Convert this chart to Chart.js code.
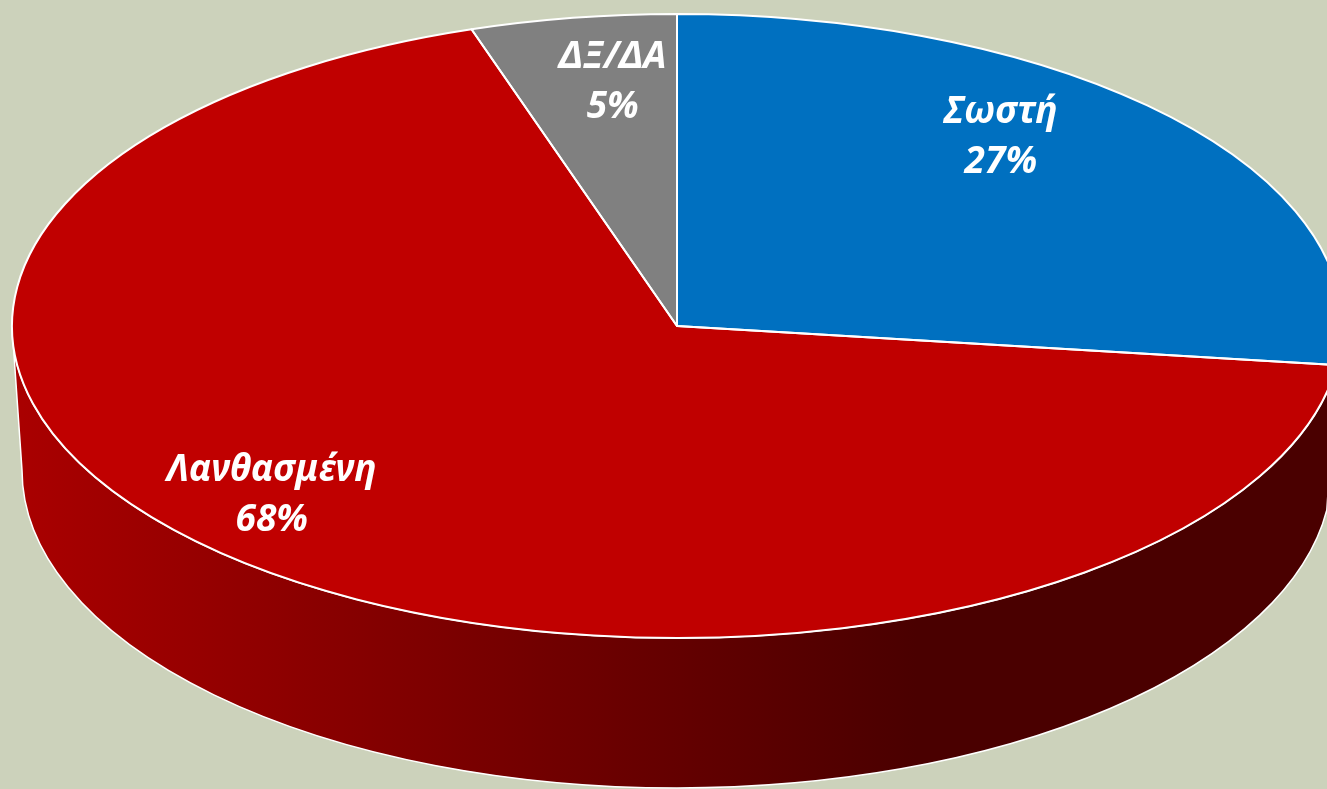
<!DOCTYPE html>
<html><head><meta charset="utf-8">
<script src="https://cdn.jsdelivr.net/npm/chart.js@4.4.1/dist/chart.umd.min.js"></script>
<style>html,body{margin:0;padding:0;background:#CCD2BB;overflow:hidden}canvas{display:block}</style>
</head><body>
<canvas id="c" width="1327" height="789"></canvas>
<script>
const categories = ['Σωστή', 'Λανθασμένη', 'ΔΞ/ΔΑ'];
const percentages = [27, 68, 5];
const topColors = ['#0070C0', '#C00000', '#808080'];
const wallLight = ['#005A9E', '#AA0000', '#6A6A6A'];
const wallDark = ['#002E55', '#4A0000', '#383838'];

// projection of the pie: top face ellipse, bottom face ellipse, label placement
const view = {
  top: {cx: 677, cy: 326, rx: 665, ry: 312},
  bottom: {cx: 677, cy: 470, rx: 655, ry: 318},
  apex: -58,
  labelBase: 0.56, labelGrow: 0.0014,
  font: 'italic bold 37px "Noto Sans"', lineGap: 50
};

const TAU = Math.PI * 2;

function drawWall(ctx, lo, hi, i) {
  const T = view.top, B = view.bottom;
  const g = ctx.createLinearGradient(T.cx - T.rx, 0, T.cx + T.rx, 0);
  g.addColorStop(0, wallLight[i]);
  g.addColorStop(0.68, wallDark[i]);
  g.addColorStop(1, wallDark[i]);
  ctx.beginPath();
  ctx.ellipse(T.cx, T.cy, T.rx, T.ry, 0, lo, hi, false);
  ctx.ellipse(B.cx, B.cy, B.rx, B.ry, 0, hi, lo, true);
  ctx.closePath();
  ctx.fillStyle = g;
  ctx.fill();
  ctx.strokeStyle = '#FFFFFF';
  ctx.lineWidth = 1.5;
  ctx.stroke();
}

const pie3d = {
  id: 'pie3d',
  beforeDatasetsDraw(chart) {
    const ctx = chart.ctx, meta = chart.getDatasetMeta(0);
    const T = view.top;
    ctx.save();
    meta.data.forEach((arc, i) => {
      const s = arc.startAngle, e = arc.endAngle;
      for (const k of [-1, 0, 1]) {
        const lo = Math.max(s, k * TAU), hi = Math.min(e, k * TAU + Math.PI);
        if (hi > lo) drawWall(ctx, lo, hi, i);
      }
    });
    ctx.restore();
    const a = meta.data[0];
    ctx.save();
    ctx.translate(T.cx, T.cy);
    ctx.scale(T.rx / a.outerRadius, T.ry / a.outerRadius);
    ctx.translate(-a.x, -a.y);
  },
  afterDatasetsDraw(chart) {
    const ctx = chart.ctx, meta = chart.getDatasetMeta(0);
    ctx.restore();
    const T = view.top;
    ctx.save();
    ctx.strokeStyle = '#FFFFFF';
    ctx.lineWidth = 2;
    ctx.lineJoin = 'round';
    meta.data.forEach(arc => {
      ctx.beginPath();
      ctx.moveTo(T.cx, T.cy);
      ctx.ellipse(T.cx, T.cy, T.rx, T.ry, 0, arc.startAngle, arc.endAngle, false);
      ctx.closePath();
      ctx.stroke();
    });
    ctx.restore();
  },
  afterDraw(chart) {
    const ctx = chart.ctx, meta = chart.getDatasetMeta(0);
    const T = view.top;
    const {apex, labelBase, labelGrow, font, lineGap} = view;
    const c = apex / T.ry;
    const k = T.rx * Math.sqrt(1 - c * c);
    ctx.save();
    ctx.font = font;
    ctx.fillStyle = '#FFFFFF';
    ctx.textAlign = 'center';
    ctx.textBaseline = 'alphabetic';
    meta.data.forEach((arc, i) => {
      const line1 = chart.data.labels[i];
      const line2 = chart.data.datasets[0].data[i] + '%';
      const w = Math.max(ctx.measureText(line1).width, ctx.measureText(line2).width);
      const r = labelBase + labelGrow * w;
      const m = (arc.startAngle + arc.endAngle) / 2;
      const u = Math.cos(m) * r, v = Math.sin(m) * r;
      const d = 1 + c * v;
      const x = T.cx + k * u / d;
      const y = T.cy + (apex + T.ry * v) / d;
      ctx.fillText(line1, x, y + 12 - lineGap / 2);
      ctx.fillText(line2, x, y + 12 + lineGap / 2);
    });
    ctx.restore();
  }
};

new Chart(document.getElementById('c'), {
  type: 'pie',
  data: {
    labels: categories,
    datasets: [{data: percentages, backgroundColor: topColors, borderWidth: 0, clip: false}]
  },
  options: {
    responsive: false,
    animation: false,
    layout: {padding: 0},
    plugins: {legend: {display: false}, tooltip: {enabled: false}}
  },
  plugins: [pie3d]
});
</script>
</body></html>
